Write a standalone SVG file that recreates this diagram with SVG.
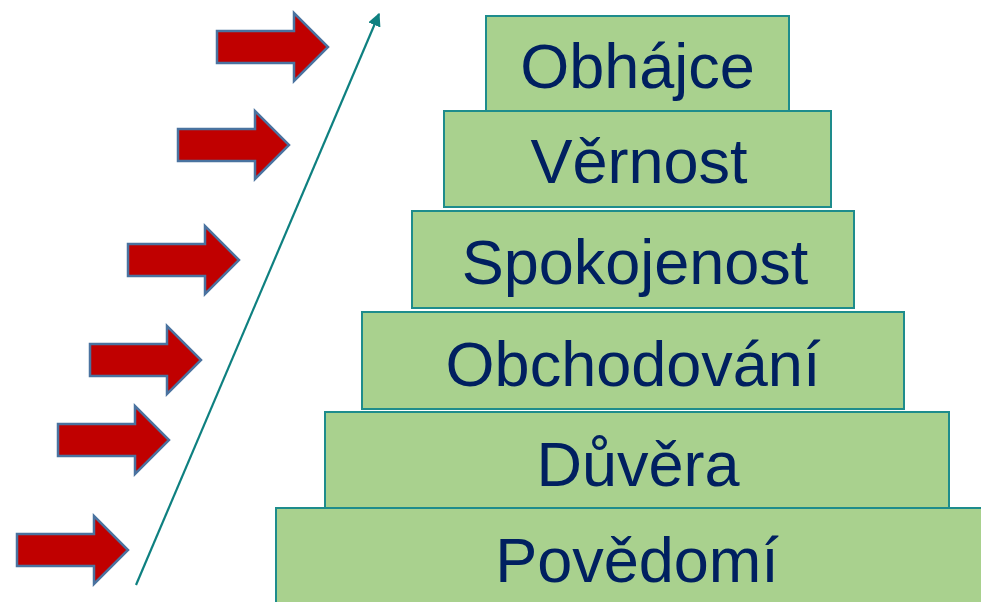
<svg xmlns="http://www.w3.org/2000/svg" width="981" height="602" viewBox="0 0 981 602">
  <style>
    .step rect { fill: #A9D18E; stroke: #1E8C8C; stroke-width: 2; }
    .step text { font-family: "Liberation Sans", Arial, sans-serif; font-size: 63px; fill: #002060; text-anchor: middle; }
    .push { fill: #C00000; stroke: #4A73A0; stroke-width: 2.5; stroke-linejoin: miter; }
    .rise { stroke: #0E8080; stroke-width: 2.2; fill: none; }
  </style>
  <defs>
    <marker id="tip" viewBox="0 0 10 10" refX="9" refY="5" markerWidth="6" markerHeight="6" orient="auto" markerUnits="strokeWidth">
      <path d="M0,0 L10,5 L0,10 Z" fill="#0E8080"/>
    </marker>
    <!-- block arrow, origin at left end of shaft, vertical centre -->
    <path id="blk" d="M0,-16 L77,-16 L77,-34 L111,0 L77,34 L77,16 L0,16 Z"/>
  </defs>

  <!-- pyramid steps, top to bottom -->
  <g id="obhajce" class="step">
    <rect x="486" y="16" width="303" height="96"/>
    <text x="637.5" y="88">Obhájce</text>
  </g>
  <g id="vernost" class="step">
    <rect x="444" y="111" width="387" height="96"/>
    <text x="639" y="183">Věrnost</text>
  </g>
  <g id="spokojenost" class="step">
    <rect x="412" y="211" width="442" height="97"/>
    <text x="635" y="284">Spokojenost</text>
  </g>
  <g id="obchodovani" class="step">
    <rect x="362" y="312" width="542" height="97"/>
    <text x="633" y="386">Obchodování</text>
  </g>
  <g id="duvera" class="step">
    <rect x="325" y="412" width="624" height="97"/>
    <text x="638" y="486">Důvěra</text>
  </g>
  <g id="povedomi" class="step">
    <rect x="276" y="508" width="720" height="110"/>
    <text x="637" y="582">Povědomí</text>
  </g>

  <!-- red push arrows -->
  <g id="arrows">
    <use href="#blk" class="push" transform="translate(217,47)"/>
    <use href="#blk" class="push" transform="translate(178,145)"/>
    <use href="#blk" class="push" transform="translate(128,260)"/>
    <use href="#blk" class="push" transform="translate(90,360)"/>
    <use href="#blk" class="push" transform="translate(58,440)"/>
    <use href="#blk" class="push" transform="translate(17,550)"/>
  </g>

  <!-- rising line -->
  <g id="connectors">
    <line class="rise" x1="136" y1="585" x2="379" y2="14" marker-end="url(#tip)"/>
  </g>
</svg>
